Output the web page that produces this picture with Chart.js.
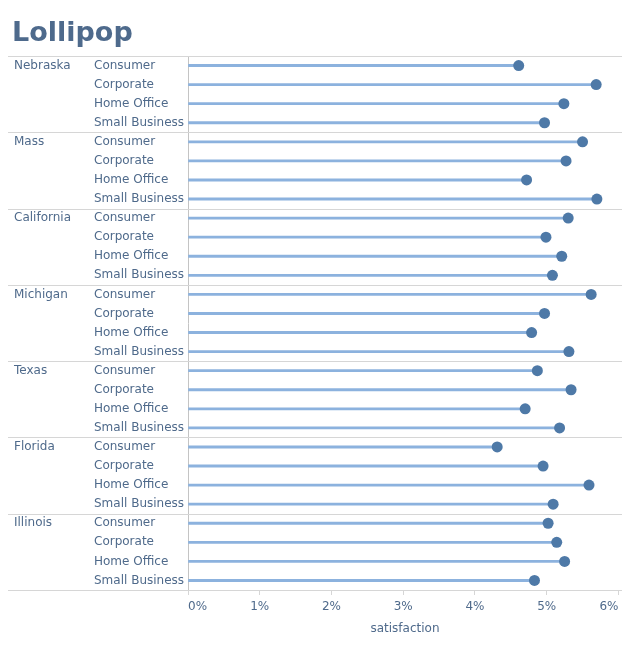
<!DOCTYPE html>
<html>
<head>
<meta charset="utf-8">
<script src="https://cdn.jsdelivr.net/npm/chart.js@4.4.1/dist/chart.umd.min.js"></script>
<style>
  html, body { margin: 0; padding: 0; background: #fff; }
  #wrap { width: 635px; height: 650px; }
</style>
</head>
<body>
<div id="wrap"><canvas id="lollipop"></canvas></div>
<script>
// data
var chartTitle = 'Lollipop';
var states = ['Nebraska', 'Mass', 'California', 'Michigan', 'Texas', 'Florida', 'Illinois'];
var segments = ['Consumer', 'Corporate', 'Home Office', 'Small Business'];
var nebraska   = [4.61, 5.69, 5.24, 4.97];
var mass       = [5.50, 5.27, 4.72, 5.70];
var california = [5.30, 4.99, 5.21, 5.08];
var michigan   = [5.62, 4.97, 4.79, 5.31];
var texas      = [4.87, 5.34, 4.70, 5.18];
var florida    = [4.31, 4.95, 5.59, 5.09];
var illinois   = [5.02, 5.14, 5.25, 4.83];
var xTicks = [0, 1, 2, 3, 4, 5, 6];

var textColor = '#4f6a8b';
var stemColor = '#8cb2de';
var dotColor = '#4e79a7';
var sepColor = '#d6d6d6';

var labels = [];
var values = [];
var groups = [nebraska, mass, california, michigan, texas, florida, illinois];
groups.forEach(function(g){
    segments.forEach(function(s, i){
        labels.push(s);
        values.push(g[i]);
    });
});

// title, separators and state names on the left
var statePlugin = {
    id: 'stateLabels',
    beforeDatasetsDraw: function(chart){
        var c = chart.ctx, y = chart.scales.y, area = chart.chartArea;
        var n = labels.length;
        var lines = [area.top];
        for (var k = 4; k < n; k += 4) {
            lines.push((y.getPixelForValue(k - 1) + y.getPixelForValue(k)) / 2);
        }
        lines.push(area.bottom);
        c.save();
        c.strokeStyle = sepColor;
        c.lineWidth = 1;
        lines.forEach(function(py){
            py = Math.round(py) + 0.5;
            c.beginPath();
            c.moveTo(8, py);
            c.lineTo(area.right, py);
            c.stroke();
        });
        c.fillStyle = textColor;
        c.font = '12px "DejaVu Sans"';
        c.textAlign = 'left';
        c.textBaseline = 'middle';
        states.forEach(function(st, i){
            c.fillText(st, 14, y.getPixelForValue(i * 4));
        });
        c.fillStyle = '#4e6a8c';
        c.font = 'bold 27px "DejaVu Sans"';
        c.textBaseline = 'alphabetic';
        c.fillText(chartTitle, 12, 41);
        c.restore();
    }
};

var ctx = document.getElementById('lollipop').getContext('2d');
var chart = new Chart(ctx, {
    type: 'bar',
    data: {
        labels: labels,
        datasets: [
            {
                type: 'line',
                data: values,
                showLine: false,
                pointRadius: 5.5,
                pointHoverRadius: 5.5,
                pointBackgroundColor: dotColor,
                pointBorderColor: dotColor,
                pointBorderWidth: 0,
                order: 0
            },
            {
                type: 'bar',
                data: values,
                backgroundColor: stemColor,
                borderWidth: 0,
                barThickness: 2.2,
                order: 1
            }
        ]
    },
    plugins: [statePlugin],
    options: {
        indexAxis: 'y',
        responsive: true,
        maintainAspectRatio: false,
        animation: false,
        layout: {
            padding: { left: 94, right: 13, top: 56, bottom: 14 }
        },
        scales: {
            x: {
                min: 0,
                max: 6.05,
                afterBuildTicks: function(s){
                    s.ticks = xTicks.map(function(v){ return { value: v }; });
                },
                afterFit: function(s){
                    s.height = 46;
                    s.paddingLeft = 0;
                    s.paddingRight = 0;
                },
                grid: {
                    drawOnChartArea: false,
                    drawTicks: true,
                    tickLength: 5,
                    color: '#d6d6d6'
                },
                border: { display: false },
                ticks: {
                    align: 'inner',
                    padding: 5,
                    maxRotation: 0,
                    color: textColor,
                    font: { family: 'DejaVu Sans', size: 12 },
                    callback: function(v){ return v + '%'; }
                },
                title: {
                    display: true,
                    text: 'satisfaction',
                    color: textColor,
                    font: { family: 'DejaVu Sans', size: 12 },
                    padding: { top: 2, bottom: 0 }
                }
            },
            y: {
                afterFit: function(s){ s.width = 94; },
                grid: { display: false, drawTicks: false },
                border: { display: true, color: '#c4c4c4', width: 1 },
                ticks: {
                    crossAlign: 'far',
                    padding: 4,
                    autoSkip: false,
                    color: textColor,
                    font: { family: 'DejaVu Sans', size: 12 }
                }
            }
        },
        plugins: {
            legend: { display: false },
            tooltip: { enabled: false },
            title: { display: false }
        }
    }
});
</script>
</body>
</html>
